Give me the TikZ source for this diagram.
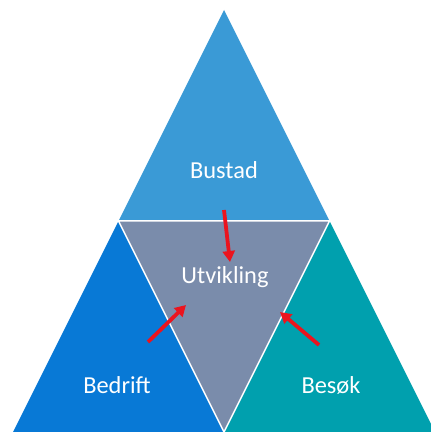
\documentclass[tikz,border=0pt]{standalone}
\usepackage{fontspec}
\setmainfont{Carlito}
\usetikzlibrary{arrows.meta}
\def\toptriangle{(118.5,211) -- (224,422) -- (329.5,211) -- cycle}
\def\lefttriangle{(13,0) -- (118.5,211) -- (224,0) -- cycle}
\def\righttriangle{(224,0) -- (329.5,211) -- (435,0) -- cycle}
\def\midtriangle{(118.5,211) -- (329.5,211) -- (224,0) -- cycle}
\definecolor{top area}{RGB}{58,154,214}
\definecolor{left area}{RGB}{8,121,214}
\definecolor{right area}{RGB}{0,160,174}
\definecolor{mid area}{RGB}{122,140,171}
\definecolor{arrow red}{RGB}{235,20,30}
\tikzset{part/.style={draw=white, line width=1.5bp, line join=miter},
	label text/.style={text=white, font=\fontsize{24.5}{29}\selectfont, inner sep=0pt},
	pointer/.style={draw=arrow red, line width=3.8bp, -{Triangle[length=11bp,width=12bp]}}}

\begin{document}
\begin{tikzpicture}[x=1bp,y=1bp]
		\useasboundingbox (0,0) rectangle (431,432);
		\begin{scope}
		\clip (0,0) rectangle (431,432);
		\fill[top area] \toptriangle;
		\fill[left area] \lefttriangle;
		\fill[right area] \righttriangle;
		\fill[mid area] \midtriangle;
		\draw[part] \midtriangle;
		\end{scope}
		
		\node[label text] (bustad) at (224,262) {Bustad};
		\node[label text] (utvikling) at (225,155) {Utvikling};
		\node[label text] (bedrift) at (117,47) {Bedrift};
		\node[label text] (besok) at (331,47) {Besøk};
		
		\coordinate (fromtop) at (224,222);
		\coordinate (totop) at (230,170);
		\coordinate (fromleft) at (148,90);
		\coordinate (toleft) at (186,127);
		\coordinate (fromright) at (319,87);
		\coordinate (toright) at (280,120);
		\draw[pointer] (fromtop) -- (totop);
		\draw[pointer] (fromleft) -- (toleft);
		\draw[pointer] (fromright) -- (toright);
		
		\end{tikzpicture}
\end{document}
